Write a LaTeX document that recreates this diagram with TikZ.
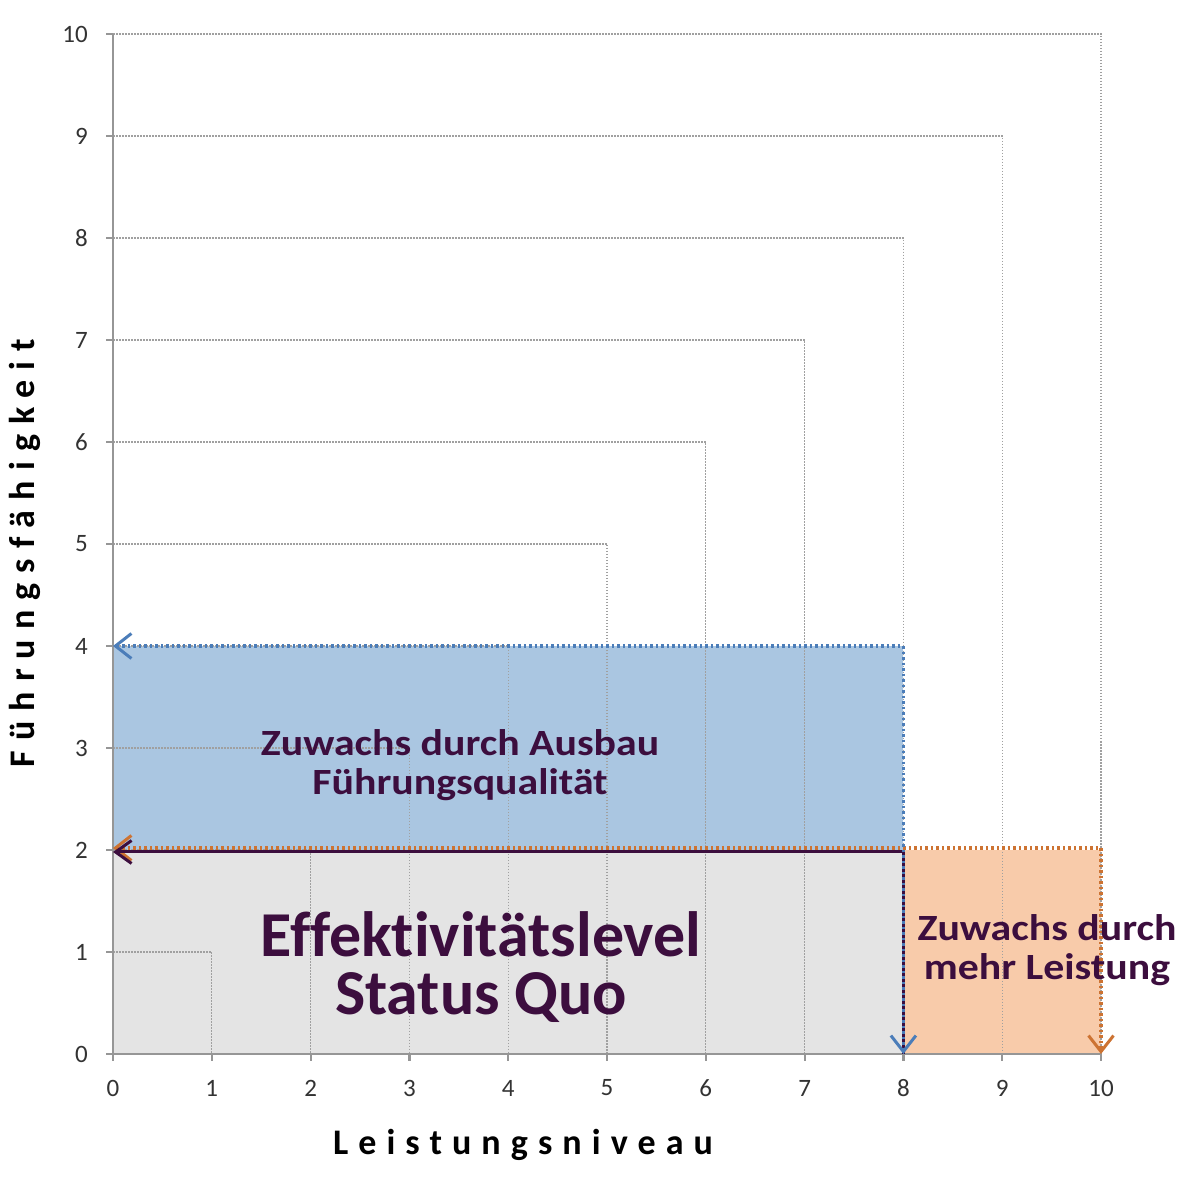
\documentclass[tikz,border=0pt]{standalone}
\usepackage{fontspec}
\setmainfont[Ligatures=NoCommon]{Carlito}
\usetikzlibrary{arrows.meta}
\definecolor{txt}{RGB}{60,14,62}
\definecolor{bluefill}{RGB}{170,198,225}
\definecolor{grayfill}{RGB}{228,228,228}
\definecolor{orangefill}{RGB}{248,203,170}
\definecolor{blueline}{RGB}{75,125,185}
\definecolor{orangeline}{RGB}{205,115,50}
\definecolor{gridgray}{RGB}{160,160,160}
\definecolor{axisgray}{RGB}{150,150,150}
\tikzset{
  gridline/.style={draw=gridgray, line width=1.2pt, dash pattern=on 1.5pt off 1.5pt},
  axisline/.style={draw=axisgray, line width=2.2pt},
  ticklbl/.style={font=\fontsize{25}{30}\selectfont, text=black!80, inner sep=0pt},
  bluedot/.style={draw=blueline, line width=3.5pt, dash pattern=on 2.5pt off 3pt},
  orangedot/.style={draw=orangeline, line width=3.5pt, dash pattern=on 2.5pt off 3pt},
  darkline/.style={draw=txt, line width=3pt},
  boxtext/.style={text=txt, align=center, xscale=1.13, font=\bfseries\fontsize{37}{39}\selectfont},
  bigtext/.style={text=txt, anchor=base, inner sep=0pt, font=\bfseries\fontsize{64}{70}\selectfont},
  axtitle/.style={text=black, font=\bfseries\fontsize{36}{40}\selectfont\addfontfeature{LetterSpace=28}}
}
\begin{document}
\begin{tikzpicture}[x=98.8pt, y=102pt]
\useasboundingbox[fill=white] (-113pt,-126pt) rectangle (1067pt,1054pt);
% fills
\fill[grayfill] (0,0) rectangle (8,2);
\fill[bluefill] (0,2) rectangle (8,4);
\fill[orangefill] (8,0) rectangle (10,2);
% grid
\foreach \k in {1,...,10} {
  \coordinate (g\k) at (\k,\k);
  \draw[gridline] (0,\k) -- (g\k) -- (\k,0);
}
% axes
\coordinate (O) at (0,0);
\coordinate (Ytop) at (0,10);
\coordinate (Xend) at (10,0);
\draw[axisline] (O) -- (Ytop);
\draw[axisline] (O) -- (Xend);
\foreach \k in {0,...,10} {
  \draw[axisline] (0,\k) -- ++(-7pt,0);
  \draw[axisline] (\k,0) -- ++(0,-7pt);
  \node[ticklbl, anchor=east] (yl\k) at ([xshift=-25pt]0,\k) {\k};
  \node[ticklbl] (xl\k) at ([yshift=-34pt]\k,0) {\k};
}
% key points
\coordinate (p04) at (0,4);
\coordinate (p84) at (8,4);
\coordinate (p80) at (8,0);
\coordinate (p02) at (0,2);
\coordinate (p82) at (8,2);
\coordinate (p102) at (10,2);
\coordinate (p100) at (10,0);
% orange dotted
\draw[orangedot, {Straight Barb[length=16pt, width=25pt, line width=3pt]}-{Straight Barb[length=16pt, width=25pt, line width=3pt]}]
  ([yshift=2pt]p02) -- ([yshift=2pt]p102) -- (p100);
% dark line
\draw[darkline, {Straight Barb[length=16pt, width=23pt, line width=3pt]}-]
  ([yshift=-2pt]p02) -- ([yshift=-2pt]p82) -- (p80);
% blue dotted
\draw[bluedot, {Straight Barb[length=16pt, width=25pt, line width=3pt]}-{Straight Barb[length=16pt, width=25pt, line width=3pt]}]
  (p04) -- (p84) -- (p80);
% texts
\node[boxtext] (ausbau) at (347pt,289pt) {Zuwachs durch Ausbau\\Führungsqualität};
\node[bigtext] (status1) at (368pt,97pt) {Effektivitätslevel};
\node[bigtext] (status2) at (368pt,39pt) {Status Quo};
\node[boxtext] (leistung) at (934pt,104pt) {Zuwachs durch\\mehr Leistung};
\node[axtitle] (xtitle) at (410pt,-91pt) {Leistungsniveau};
\node[axtitle, rotate=90] (ytitle) at (-88pt,501pt) {Führungsfähigkeit};
\end{tikzpicture}
\end{document}
